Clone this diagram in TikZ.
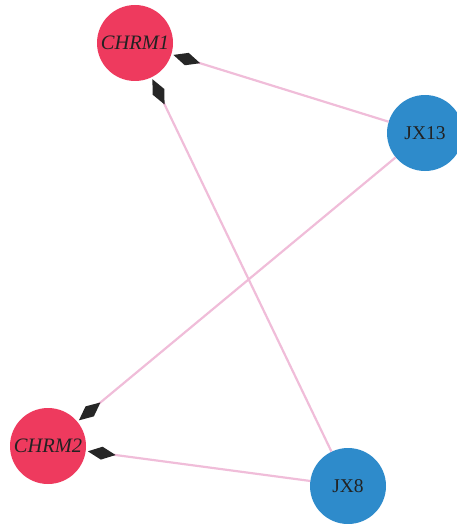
\documentclass[tikz,border=0pt]{standalone}
\usepackage{fontspec}
\setmainfont{Liberation Serif}
\usetikzlibrary{arrows.meta}
\definecolor{gred}{HTML}{EE3A5E}
\definecolor{gblue}{HTML}{2E8BCB}
\definecolor{gpink}{HTML}{F0BDD9}
\definecolor{gtext}{HTML}{222222}
\tikzset{
  gene/.style={circle, fill=gred, minimum size=76pt, inner sep=0pt, text=gtext, font=\fontsize{20.5}{22}\selectfont\itshape},
  drug/.style={circle, fill=gblue, minimum size=76pt, inner sep=0pt, text=gtext, font=\fontsize{19.5}{22}\selectfont},
  link/.style={draw=gpink, line width=2.2pt, -{Diamond[length=28pt,width=13pt,fill=black!85,color=black!85,line width=0pt]}, shorten >=2pt}
}
\begin{document}
\begin{tikzpicture}[x=1pt,y=-1pt]
\useasboundingbox (0,0) rectangle (456,524);
\node[gene] (c1) at (135,43) {CHRM1};
\node[gene] (c2) at (48,446) {CHRM2};
\node[drug] (j13) at (425,133) {JX13};
\node[drug] (j8) at (348,486) {JX8};
\draw[link] (j13) -- (c1);
\draw[link] (j8) -- (c1);
\draw[link] (j13) -- (c2);
\draw[link] (j8) -- (c2);
\end{tikzpicture}
\end{document}
